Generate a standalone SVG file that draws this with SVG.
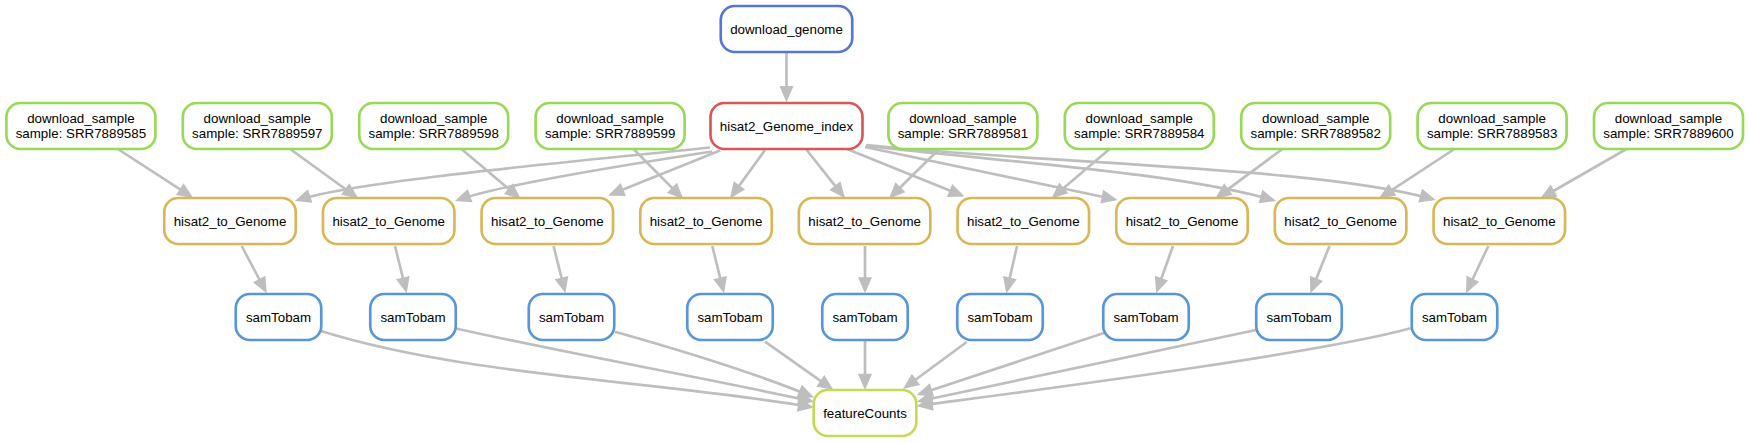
<svg xmlns="http://www.w3.org/2000/svg" width="1749" height="443" viewBox="0 0 1749 443">
<defs>
<style>
.n rect{fill:#fff;stroke-width:2.67}
.ds rect{stroke:#98d957}
.dg rect{stroke:#5775d9}
.hi rect{stroke:#d95757}
.ht rect{stroke:#d9b657}
.sb rect{stroke:#5797d9}
.fc rect{stroke:#c6d957}
text{font-family:"Liberation Sans",Arial,Helvetica,sans-serif;font-size:13.33px;text-anchor:middle;fill:#000}
#edges path{fill:none;stroke:#bebebe;stroke-width:2.67;marker-end:url(#arr)}
</style>
<marker id="arr" markerUnits="userSpaceOnUse" markerWidth="24" markerHeight="16" viewBox="-18 -8 24 16" refX="0" refY="0" orient="auto" overflow="visible">
<path d="M0,0 L-11.5,-5 L-11.5,5 Z" fill="#bebebe" stroke="#bebebe" stroke-width="2.67"/>
</marker>
</defs>
<rect x="0" y="0" width="1749" height="443" fill="#fff"/>
<g id="edges">
<path d="M786.5,52 L786.5,98.8"/>
<path d="M118.6,149.5 L190.5,196.2"/>
<path d="M290.8,149.5 L355.6,196.5"/>
<path d="M462,149.5 L518.2,196.9"/>
<path d="M634,149.5 L681,196.9"/>
<path d="M938.7,149.5 L891.3,196.3"/>
<path d="M1109,149.5 L1054,196.3"/>
<path d="M1281.8,149.5 L1218,196.6"/>
<path d="M1453.7,149.5 L1381.8,196.7"/>
<path d="M1625.6,149.5 L1543,197"/>
<path d="M710,147.5 C560.8,162.8 355,181.4 298,200"/>
<path d="M712,151.5 C613.2,166.7 495.7,186.3 458.1,199.9"/>
<path d="M720,150.5 L611.4,194.3"/>
<path d="M765,150 L731.9,195.8"/>
<path d="M806.7,150 L842.9,195.7"/>
<path d="M847,149 L961.4,195.3"/>
<path d="M865,147 L1114.3,199.3"/>
<path d="M866,146 C1015,162.8 1176.7,172.6 1272.8,200.1"/>
<path d="M866,145 C1065,165 1317.4,167 1432.5,199.1"/>
<path d="M241.7,246 L265.2,290.4"/>
<path d="M395,246 L405.9,290.1"/>
<path d="M553.6,246 L564.6,290.1"/>
<path d="M712.3,246 L723.2,290.1"/>
<path d="M865,246 L865,290"/>
<path d="M1017,246 L1007,290.1"/>
<path d="M1173,246 L1157.2,290.2"/>
<path d="M1329.5,246 L1311.6,290.2"/>
<path d="M1488.3,246 L1467.4,290.3"/>
<path d="M321,331 C464,376 663,381.4 810.7,406.9"/>
<path d="M456,328.5 C560,352 700,377 810.8,401"/>
<path d="M615,331.7 C680,350 760,375 811,396.2"/>
<path d="M765,341.7 L830.8,388.1"/>
<path d="M865,340 L865,386.7"/>
<path d="M966.7,342 L905.7,387"/>
<path d="M1104,333 L919.8,394"/>
<path d="M1256,330 L919.9,401"/>
<path d="M1410.7,328.3 C1314.2,354.7 1019.1,392.3 920,405.6"/>
</g>
<g id="download_genome" class="n dg"><rect x="720.75" y="6" width="131.5" height="46" rx="14"/><text x="786.5" y="34">download_genome</text></g>
<g id="ds_SRR7889585" class="n ds"><rect x="6.4" y="103" width="149" height="46" rx="14"/><text x="80.9" y="123">download_sample</text><text x="80.9" y="137.5">sample: SRR7889585</text></g>
<g id="ds_SRR7889597" class="n ds"><rect x="182.8" y="103" width="149" height="46" rx="14"/><text x="257.3" y="123">download_sample</text><text x="257.3" y="137.5">sample: SRR7889597</text></g>
<g id="ds_SRR7889598" class="n ds"><rect x="359.2" y="103" width="149" height="46" rx="14"/><text x="433.7" y="123">download_sample</text><text x="433.7" y="137.5">sample: SRR7889598</text></g>
<g id="ds_SRR7889599" class="n ds"><rect x="535.6" y="103" width="149" height="46" rx="14"/><text x="610.1" y="123">download_sample</text><text x="610.1" y="137.5">sample: SRR7889599</text></g>
<g id="hisat2_Genome_index" class="n hi"><rect x="710.5" y="103" width="152" height="46" rx="14"/><text x="786.5" y="131">hisat2_Genome_index</text></g>
<g id="ds_SRR7889581" class="n ds"><rect x="888.4" y="103" width="149" height="46" rx="14"/><text x="962.9" y="123">download_sample</text><text x="962.9" y="137.5">sample: SRR7889581</text></g>
<g id="ds_SRR7889584" class="n ds"><rect x="1064.8" y="103" width="149" height="46" rx="14"/><text x="1139.3" y="123">download_sample</text><text x="1139.3" y="137.5">sample: SRR7889584</text></g>
<g id="ds_SRR7889582" class="n ds"><rect x="1241.2" y="103" width="149" height="46" rx="14"/><text x="1315.7" y="123">download_sample</text><text x="1315.7" y="137.5">sample: SRR7889582</text></g>
<g id="ds_SRR7889583" class="n ds"><rect x="1417.6" y="103" width="149" height="46" rx="14"/><text x="1492.1" y="123">download_sample</text><text x="1492.1" y="137.5">sample: SRR7889583</text></g>
<g id="ds_SRR7889600" class="n ds"><rect x="1594" y="103" width="149" height="46" rx="14"/><text x="1668.5" y="123">download_sample</text><text x="1668.5" y="137.5">sample: SRR7889600</text></g>
<g id="h2g_1" class="n ht"><rect x="164.25" y="198" width="131.5" height="46" rx="14"/><text x="230" y="226">hisat2_to_Genome</text></g>
<g id="h2g_2" class="n ht"><rect x="322.95" y="198" width="131.5" height="46" rx="14"/><text x="388.7" y="226">hisat2_to_Genome</text></g>
<g id="h2g_3" class="n ht"><rect x="481.55" y="198" width="131.5" height="46" rx="14"/><text x="547.3" y="226">hisat2_to_Genome</text></g>
<g id="h2g_4" class="n ht"><rect x="640.25" y="198" width="131.5" height="46" rx="14"/><text x="706" y="226">hisat2_to_Genome</text></g>
<g id="h2g_5" class="n ht"><rect x="798.85" y="198" width="131.5" height="46" rx="14"/><text x="864.6" y="226">hisat2_to_Genome</text></g>
<g id="h2g_6" class="n ht"><rect x="957.55" y="198" width="131.5" height="46" rx="14"/><text x="1023.3" y="226">hisat2_to_Genome</text></g>
<g id="h2g_7" class="n ht"><rect x="1116.25" y="198" width="131.5" height="46" rx="14"/><text x="1182" y="226">hisat2_to_Genome</text></g>
<g id="h2g_8" class="n ht"><rect x="1274.85" y="198" width="131.5" height="46" rx="14"/><text x="1340.6" y="226">hisat2_to_Genome</text></g>
<g id="h2g_9" class="n ht"><rect x="1433.55" y="198" width="131.5" height="46" rx="14"/><text x="1499.3" y="226">hisat2_to_Genome</text></g>
<g id="stb_1" class="n sb"><rect x="235.75" y="294" width="85.5" height="46" rx="14"/><text x="278.5" y="322">samTobam</text></g>
<g id="stb_2" class="n sb"><rect x="370.25" y="294" width="85.5" height="46" rx="14"/><text x="413" y="322">samTobam</text></g>
<g id="stb_3" class="n sb"><rect x="528.75" y="294" width="85.5" height="46" rx="14"/><text x="571.5" y="322">samTobam</text></g>
<g id="stb_4" class="n sb"><rect x="687.25" y="294" width="85.5" height="46" rx="14"/><text x="730" y="322">samTobam</text></g>
<g id="stb_5" class="n sb"><rect x="822.25" y="294" width="85.5" height="46" rx="14"/><text x="865" y="322">samTobam</text></g>
<g id="stb_6" class="n sb"><rect x="957.25" y="294" width="85.5" height="46" rx="14"/><text x="1000" y="322">samTobam</text></g>
<g id="stb_7" class="n sb"><rect x="1103.25" y="294" width="85.5" height="46" rx="14"/><text x="1146" y="322">samTobam</text></g>
<g id="stb_8" class="n sb"><rect x="1256.25" y="294" width="85.5" height="46" rx="14"/><text x="1299" y="322">samTobam</text></g>
<g id="stb_9" class="n sb"><rect x="1411.75" y="294" width="85.5" height="46" rx="14"/><text x="1454.5" y="322">samTobam</text></g>
<g id="featureCounts" class="n fc"><rect x="813.7" y="390" width="102.6" height="46" rx="14"/><text x="865" y="418">featureCounts</text></g>
</svg>
